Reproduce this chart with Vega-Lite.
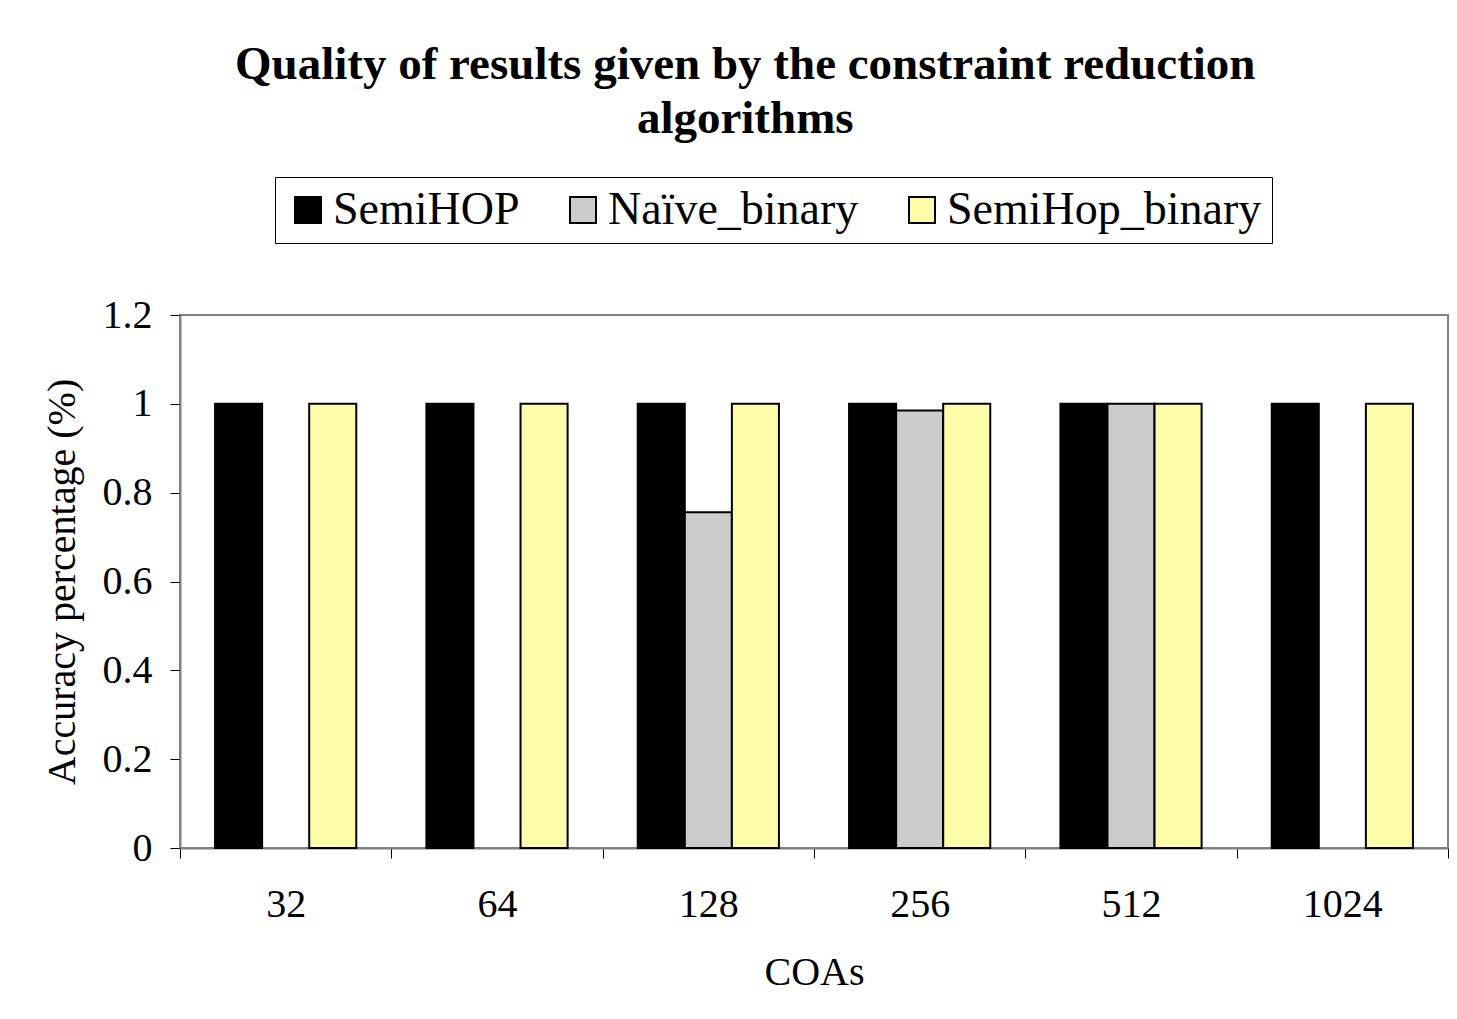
{
  "$schema": "https://vega.github.io/schema/vega-lite/v6.json",
  "autosize": {"type": "none"},
  "width": 1268,
  "height": 533,
  "padding": {"left": 180, "top": 315, "right": 9, "bottom": 171},
  "background": "white",
  "title": {
    "text": ["Quality of results given by the constraint reduction", "algorithms"],
    "font": "Liberation Serif",
    "fontSize": 47,
    "fontWeight": "bold",
    "color": "black",
    "anchor": "middle",
    "frame": "bounds",
    "lineHeight": 54,
    "offset": 34
  },
  "data": {
    "values": [
      {"COAs": "32", "series": "SemiHOP", "value": 1},
      {"COAs": "32", "series": "SemiHop_binary", "value": 1},
      {"COAs": "64", "series": "SemiHOP", "value": 1},
      {"COAs": "64", "series": "SemiHop_binary", "value": 1},
      {"COAs": "128", "series": "SemiHOP", "value": 1},
      {"COAs": "128", "series": "Naïve_binary", "value": 0.756},
      {"COAs": "128", "series": "SemiHop_binary", "value": 1},
      {"COAs": "256", "series": "SemiHOP", "value": 1},
      {"COAs": "256", "series": "Naïve_binary", "value": 0.985},
      {"COAs": "256", "series": "SemiHop_binary", "value": 1},
      {"COAs": "512", "series": "SemiHOP", "value": 1},
      {"COAs": "512", "series": "Naïve_binary", "value": 1},
      {"COAs": "512", "series": "SemiHop_binary", "value": 1},
      {"COAs": "1024", "series": "SemiHOP", "value": 1},
      {"COAs": "1024", "series": "SemiHop_binary", "value": 1}
    ]
  },
  "mark": {"type": "bar", "stroke": "black", "strokeWidth": 2},
  "encoding": {
    "x": {
      "field": "COAs",
      "type": "nominal",
      "sort": ["32", "64", "128", "256", "512", "1024"],
      "scale": {"paddingInner": 0, "paddingOuter": 0},
      "axis": {
        "title": "COAs",
        "labelAngle": 0,
        "tickBand": "extent",
        "tickSize": 10,
        "tickColor": "black",
        "domainColor": "#808080",
        "domainWidth": 2,
        "labelPadding": 26,
        "titlePadding": 28
      }
    },
    "xOffset": {
      "field": "series",
      "type": "nominal",
      "sort": ["SemiHOP", "Naïve_binary", "SemiHop_binary"],
      "scale": {"domain": ["SemiHOP", "Naïve_binary", "SemiHop_binary"], "paddingInner": 0, "paddingOuter": 0.745}
    },
    "y": {
      "field": "value",
      "type": "quantitative",
      "scale": {"domain": [0, 1.2], "nice": false},
      "axis": {
        "title": "Accuracy percentage (%)",
        "values": [0, 0.2, 0.4, 0.6, 0.8, 1, 1.2],
        "format": "~g",
        "grid": false,
        "tickSize": 10,
        "tickColor": "black",
        "domainColor": "#808080",
        "domainWidth": 2,
        "labelPadding": 18,
        "titlePadding": 20
      }
    },
    "color": {
      "field": "series",
      "type": "nominal",
      "scale": {
        "domain": ["SemiHOP", "Naïve_binary", "SemiHop_binary"],
        "range": ["#000000", "#CCCCCC", "#FFFCAA"]
      },
      "legend": {
        "title": null,
        "orient": "none",
        "direction": "horizontal",
        "columns": 3,
        "legendX": 95,
        "legendY": -138,
        "symbolType": "square",
        "symbolSize": 676,
        "symbolStrokeColor": "black",
        "symbolStrokeWidth": 2,
        "labelFont": "Liberation Serif",
        "labelFontSize": 46,
        "labelColor": "black",
        "labelOffset": 2,
        "labelLimit": 400,
        "columnPadding": 40,
        "padding": 10,
        "strokeColor": "black",
        "fillColor": "white"
      }
    }
  },
  "config": {
    "view": {"stroke": "#808080", "strokeWidth": 2},
    "axis": {
      "labelFont": "Liberation Serif",
      "labelFontSize": 40,
      "labelColor": "black",
      "titleFont": "Liberation Serif",
      "titleFontSize": 40,
      "titleFontWeight": "normal",
      "titleColor": "black"
    }
  }
}
